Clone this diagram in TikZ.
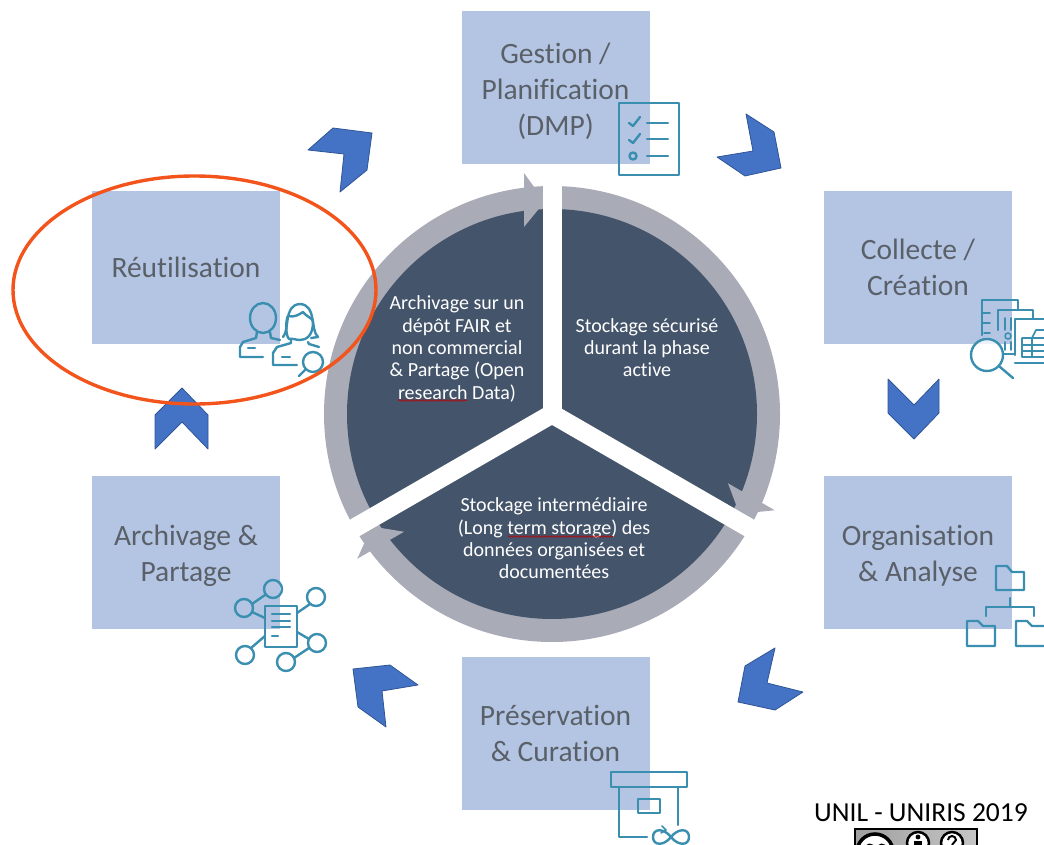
\documentclass[tikz,border=0pt]{standalone}
\usepackage{fontspec}
\setmainfont{Carlito}[Ligatures=NoCommon]
\usetikzlibrary{decorations.pathmorphing}
\definecolor{phasefill}{HTML}{B4C5E4}
\definecolor{phasetext}{HTML}{5A6068}
\definecolor{darkseg}{HTML}{44546A}
\definecolor{ringgray}{HTML}{A9ABB6}
\definecolor{chev}{HTML}{4472C4}
\definecolor{chevedge}{HTML}{2F5597}
\definecolor{iconc}{HTML}{3A8FB0}
\definecolor{ovalc}{HTML}{F2541B}
\newcommand{\lowerline}{\rule{0pt}{28.5pt}}
\tikzset{
  phase/.style={fill=phasefill,minimum width=188pt,minimum height=153pt,inner sep=0pt,align=center,
    text=phasetext,font=\fontsize{29.5}{36}\selectfont},
  segtext/.style={text=white,align=center,inner sep=0pt,font=\fontsize{20}{22.3}\selectfont},
  chevron/.style={fill=chev,draw=chevedge,line width=0.8pt,line join=round},
  icon/.style={draw=iconc,line width=2.4pt,line cap=round,line join=round},
  thinicon/.style={icon,line width=1.6pt},
  spoke/.style={draw=white,line width=19pt},
  ringhead/.style={fill=ringgray},
  wavy/.style={draw=red!75!black,line width=0.6pt,decorate,decoration={snake,amplitude=0.8pt,segment length=3pt}}
}
\begin{document}
\begin{tikzpicture}[x=1pt,y=-1pt]
\useasboundingbox (0,0) rectangle (1044,845);
\clip (0,0) rectangle (1044,845);
% phase boxes
\node[phase] (gestion) at (555.5,87.5) {\lowerline Gestion /\\Planification\\(DMP)};
\node[phase] (collecte) at (918,267.5) {Collecte /\\Création};
\node[phase] (organisation) at (918,552) {\lowerline Organisation\\\& Analyse};
\node[phase] (preservation) at (555.5,733.5) {Préservation\\\& Curation};
\node[phase] (archivage) at (186,552) {\lowerline Archivage \&\\Partage};
\node[phase] (reutilisation) at (186,267.5) {Réutilisation};
% central wheel
\coordinate (c) at (552,414);
\fill[ringgray] (c) circle (228);
\fill[darkseg] (c) circle (205);
\draw[spoke] (c) -- ++(0,-240);
\draw[spoke] (c) -- ++(30:250);
\draw[spoke] (c) -- ++(150:250);
\foreach \a in {0,120,240}{
  \fill[ringhead,rotate around={\a:(c)}] (524,173) -- (542,198) -- (542,205) -- (524,227) -- cycle;
}
\node[segtext] (segA) at (457,349) {Archivage sur un\\dépôt FAIR et\\non commercial\\\& Partage (Open\\research Data)};
\node[segtext] (segB) at (647,347.5) {Stockage sécurisé\\durant la phase\\active};
\node[segtext] (segC) at (554,538.5) {Stockage intermédiaire\\(Long term storage) des\\données organisées et\\documentées};
\draw[wavy] (398,400.5) -- (467,400.5);
\draw[wavy] (508,536.5) -- (613,536.5);
% chevrons
\path[chevron] (746,114) -- (774,132) -- (781,168) -- (745,176) -- (717,157) -- (753,151) -- cycle;
\path[chevron] (888,379) -- (914,405) -- (939,379) -- (939,413) -- (914,439) -- (888,413) -- cycle;
\path[chevron] (775,648) -- (767,683) -- (803,692) -- (775,710) -- (738,702) -- (745,666) -- cycle;
\path[chevron] (353,669) -- (390,665) -- (418,685) -- (382,691) -- (386,727) -- (358,707) -- cycle;
\path[chevron] (182,388) -- (208,415) -- (208,449) -- (182,422) -- (155,449) -- (155,415) -- cycle;
\path[chevron] (308,150) -- (333,128) -- (372,133) -- (367,170) -- (340,192) -- (344,154) -- cycle;
% checklist icon
\draw[icon] (619,103) rectangle (679,175);
\draw[icon] (629,123) -- (633,126) -- (640,117);
\draw[icon] (629,140) -- (633,143) -- (640,134);
\draw[icon] (633,156) circle (3.5);
\draw[icon] (647,123) -- (668,123) (647,139) -- (668,139) (647,156) -- (668,156);
% collect icon
\draw[icon] (982,335) -- (982,300) -- (1018,300) -- (1018,310);
\draw[icon] (998,330) -- (998,310) -- (1033,310) -- (1033,319);
\draw[icon] (1015,355) -- (1015,319) -- (1044,319);
\draw[icon] (1015,363) -- (1044,363);
\draw[icon] (1004,354) -- (1015,354);
\draw[thinicon] (990,313) -- (982,313) (990,323) -- (982,323) (990,333) -- (984,333);
\draw[thinicon] (1005,318) -- (1005,330) (1011,318) -- (1011,330) (1005,342) -- (1005,350) (1011,342) -- (1011,350);
\draw[thinicon] (1008,336) circle (3);
\draw[thinicon] (1022,357) -- (1022,338) -- (1044,338) (1022,345) -- (1044,345) (1022,351) -- (1044,351) (1022,357) -- (1044,357) (1032,338) -- (1032,357) (1032,338) -- (1036,330) -- (1044,330);
\filldraw[icon,fill=white,fill opacity=0.75] (987,355) circle (16);
\draw[icon] (1000,367) -- (1013,378);
% folder icon
\draw[icon] (996,566) -- (1007,566) -- (1012,572) -- (1024,572) -- (1024,590) -- (996,590) -- cycle;
\draw[icon] (1010,598) -- (1010,607) (986,616) -- (986,607) -- (1034,607) -- (1034,616);
\draw[icon] (967,621) -- (978,621) -- (983,626) -- (995,626) -- (995,646) -- (967,646) -- cycle;
\draw[icon] (1044,626) -- (1032,626) -- (1027,621) -- (1016,621) -- (1016,646) -- (1044,646);
% archive box icon
\draw[icon] (611,772) rectangle (687,787);
\draw[icon] (619,787) -- (619,837) -- (647,837) (678,787) -- (678,825);
\draw[icon] (638,799) rectangle (660,813);
\draw[icon] (671,837) .. controls (664,828) and (653,828) .. (653,837) .. controls (653,846) and (664,846) .. (671,837) .. controls (678,828) and (689,828) .. (689,837) .. controls (689,846) and (678,846) .. (671,837);
\draw[thinicon] (662,826) -- (666,830) -- (661,833);
% network icon
\draw[icon] (265,606) rectangle (297,647);
\draw[icon] (272,614) -- (290,614) (272,621) -- (290,621) (272,627) -- (290,627) (272,636) -- (278,636);
\foreach \p in {(273,589),(244,608),(316,597),(245,655),(317,643),(286,662)}{\draw[icon] \p circle (9);}
\draw[icon] (252,604) -- (265,595) (252,612) -- (265,618) (297,613) -- (310,604) (251,648) -- (265,636) (297,632) -- (309,639) (294,658) -- (309,648);
% people icon
\draw[icon] (263,318) ellipse (13 and 15);
\draw[icon] (257,332) -- (256,338) -- (243,342) -- (240,347) -- (240,357) -- (263,357);
\draw[icon] (270,332) -- (271,338) -- (280,340);
\draw[icon] (248,348) -- (255,348);
\draw[icon] (283,337) .. controls (290,330) and (283,305) .. (300,304) .. controls (317,305) and (310,330) .. (318,337) -- (311,338);
\draw[icon] (289,339) .. controls (285,335) and (286,318) .. (288,316) .. controls (294,318) and (300,314) .. (303,312) .. controls (308,318) and (313,318) .. (313,322) .. controls (313,336) and (306,340) .. (300,340) .. controls (296,340) and (292,338) .. (289,339);
\draw[icon] (291,339) -- (291,343) -- (277,347) -- (273,353) -- (273,365) -- (297,365);
\draw[icon] (308,342) -- (309,344) -- (319,347);
\draw[icon] (282,357) -- (290,357);
\draw[icon] (313,362) circle (10);
\draw[icon] (306,369) -- (299,376);
% attention oval
\draw[ovalc,line width=3.4pt] (194.5,290) ellipse (181.5 and 114);
% credit
\node[inner sep=0pt,text=black,font=\fontsize{27.5}{30}\selectfont] (credit) at (921,813) {UNIL - UNIRIS 2019};
\path[left color=gray!75,right color=gray!45,draw=black,line width=1.5pt] (855,829) rectangle (977,860);
\fill[white] (875,852) circle (19);
\draw[black,line width=3.5pt] (875,852) circle (18);
\draw[black,line width=2.5pt] (873,846) arc (-50:-180:5) (885,846) arc (-50:-180:5);
\fill[white] (918,843) circle (11);
\draw[black,line width=2.5pt] (918,843) circle (11);
\fill[black] (918,837) circle (2.4);
\fill[black] (914,841) rectangle (922,850);
\fill[white] (952,843) circle (11);
\draw[black,line width=2.5pt] (952,843) circle (11);
\draw[black,line width=2pt] (948,840) arc (-180:0:4) -- (952,845);
\end{tikzpicture}
\end{document}
